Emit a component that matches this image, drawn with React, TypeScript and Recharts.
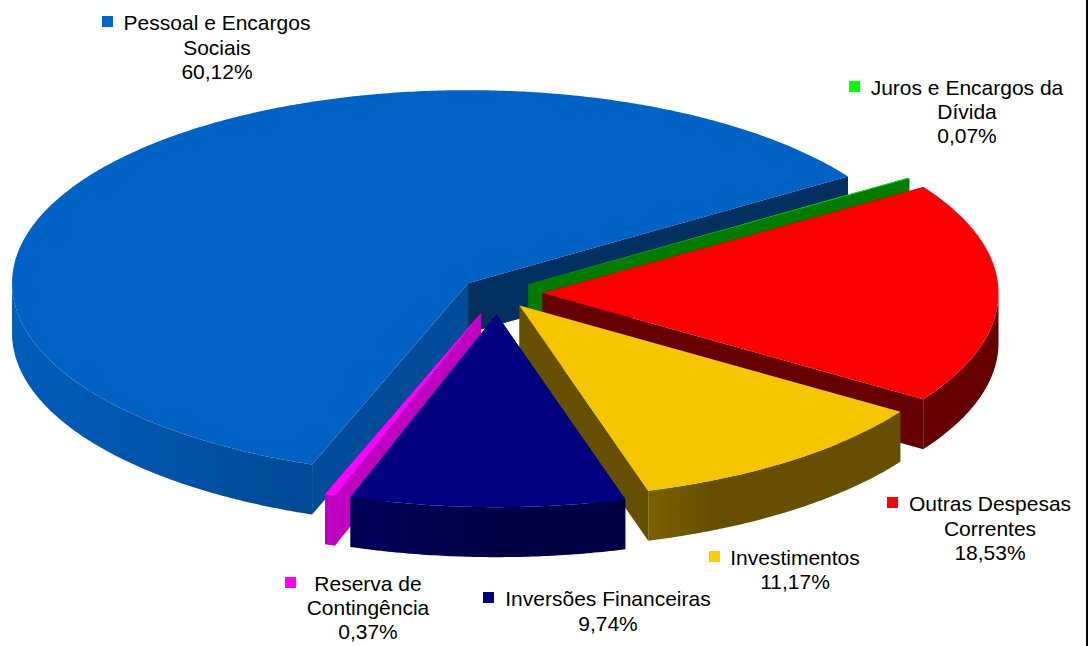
import React from 'react';
import { PieChart, Pie } from 'recharts';

const categoryLines: string[][] = [
  ['Pessoal e Encargos', 'Sociais'],
  ['Juros e Encargos da', 'Dívida'],
  ['Outras Despesas', 'Correntes'],
  ['Investimentos'],
  ['Inversões Financeiras'],
  ['Reserva de', 'Contingência'],
];
const values = [60.12, 0.07, 18.53, 11.17, 9.74, 0.37];

const topColors = ['#0062C4', '#00FF00', '#FA0000', '#F5C500', '#000080', '#FF00FF'];
const legendColors = ['#0066CC', '#00FF00', '#FF0000', '#FFCC00', '#000080', '#FF00FF'];
const startWallColors = ['#004C99', '#007A00', '#660000', '#665000', '#000050', '#C000C0'];
const endWallColors = ['#002F60', '#007A00', '#660000', '#665000', '#000050', '#C000C0'];
const rimGradients: [string, string, number][] = [
  ['#005DBB', '#004A95', 1],
  ['#007A00', '#007A00', 1],
  ['#660000', '#660000', 1],
  ['#7A6000', '#665000', 0.25],
  ['#000058', '#000044', 0.6],
  ['#C000C0', '#C000C0', 1],
];

const explodeRadii = [37.5, 37, 45, 37, 50, 50];
const TILT = 193 / 456;
const DEPTH = 50;
const CENTER_X = 497.5;
const CENTER_Y = 293;
const RADIUS = 456;
const FIRST_ANGLE = 250;
const FRONT_SLICE = 4;

const labelCenterX = [217, 967, 990, 795, 608, 368];
const labelBaseline = [30, 95, 511, 565, 606, 591];
const lineHeights = [24.5, 24, 24.5, 24, 25, 24];
const markerX = [102, 849, 887, 709, 483, 285];
const markerY = [16, 81, 497, 551, 592, 577];

const chartData = values.map((value, i) => ({ name: categoryLines[i].join(' '), value }));

const rad = (d: number) => (d * Math.PI) / 180;

function drawSlice(props: any) {
  const { cx, cy, outerRadius, startAngle, endAngle, index } = props;
  const i: number = index ?? 0;
  const mid = (startAngle + endAngle) / 2;
  const e = explodeRadii[i];
  const ox = cx + e * Math.cos(rad(mid));
  const oy = cy - e * TILT * Math.sin(rad(mid));
  const pt = (a: number): [number, number] => [
    ox + outerRadius * Math.cos(rad(a)),
    oy - outerRadius * TILT * Math.sin(rad(a)),
  ];
  const lo = Math.min(startAngle, endAngle);
  const hi = Math.max(startAngle, endAngle);
  const arc = (a: number, b: number): [number, number][] => {
    const n = Math.max(2, Math.ceil((b - a) * 2));
    const out: [number, number][] = [];
    for (let k = 0; k <= n; k++) out.push(pt(a + ((b - a) * k) / n));
    return out;
  };
  const toD = (p: [number, number][]) =>
    p.map((q, k) => `${k ? 'L' : 'M'}${q[0].toFixed(2)} ${q[1].toFixed(2)}`).join('') + 'Z';

  const top = toD([[ox, oy], ...arc(lo, hi)]);
  const wall = (a: number) => {
    const r = pt(a);
    return toD([[ox, oy], r, [r[0], r[1] + DEPTH], [ox, oy + DEPTH]]);
  };
  const rims: string[] = [];
  for (const [p, q] of [[-180, 0], [180, 360]]) {
    const a = Math.max(lo, p);
    const b = Math.min(hi, q);
    if (b > a) {
      const upper = arc(a, b);
      const lower = [...upper].reverse().map((u) => [u[0], u[1] + DEPTH] as [number, number]);
      rims.push(toD([...upper, ...lower]));
    }
  }
  const gid = `rim-${i}`;
  return (
    <g>
      <defs>
        <linearGradient id={gid} x1="0" y1="0" x2="1" y2="0">
          <stop offset="0" stopColor={rimGradients[i][0]} />
          <stop offset={rimGradients[i][2]} stopColor={rimGradients[i][1]} />
        </linearGradient>
      </defs>
      <path d={wall(endAngle)} fill={endWallColors[i]} />
      <path d={wall(startAngle)} fill={startWallColors[i]} />
      {rims.map((d, k) => (
        <path key={k} d={d} fill={`url(#${gid})`} />
      ))}
      <path d={top} fill={topColors[i]} />
    </g>
  );
}

const BackSlice = (props: any) => (props.index === FRONT_SLICE ? <g /> : drawSlice(props));
const FrontSlice = (props: any) => (props.index === FRONT_SLICE ? drawSlice(props) : <g />);

function SliceLabel(props: any) {
  const i: number = props.index ?? 0;
  const lines = [...categoryLines[i], values[i].toFixed(2).replace('.', ',') + '%'];
  return (
    <g>
      <rect x={markerX[i]} y={markerY[i]} width={11} height={11} fill={legendColors[i]} />
      {lines.map((t, k) => (
        <text
          key={k}
          x={labelCenterX[i]}
          y={labelBaseline[i] + k * lineHeights[i]}
          textAnchor="middle"
          fontFamily="'Liberation Sans', Arial, sans-serif"
          fontSize={21}
          fill="#000"
        >
          {t}
        </text>
      ))}
    </g>
  );
}

export default function App() {
  const pieProps = {
    data: chartData,
    dataKey: 'value',
    nameKey: 'name',
    cx: CENTER_X,
    cy: CENTER_Y,
    innerRadius: 0,
    outerRadius: RADIUS,
    startAngle: FIRST_ANGLE,
    endAngle: FIRST_ANGLE - 360,
    paddingAngle: 0,
    stroke: 'none',
    isAnimationActive: false,
  };
  return (
    <div style={{ position: 'absolute', left: 0, top: 0, width: 1090, height: 646, background: '#fff' }}>
      <PieChart width={1090} height={646} margin={{ top: 0, right: 0, bottom: 0, left: 0 }}>
        <Pie {...pieProps} shape={BackSlice} label={SliceLabel} labelLine={false} />
        <Pie {...pieProps} shape={FrontSlice} label={false} labelLine={false} />
      </PieChart>
      <div style={{ position: 'absolute', left: 1086, top: 0, width: 2, height: 646, background: '#000' }} />
    </div>
  );
}
